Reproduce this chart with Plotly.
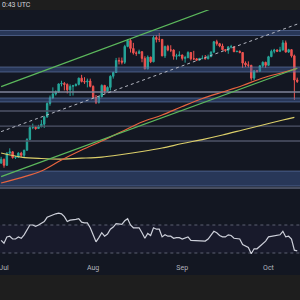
import plotly.graph_objects as go
import pandas as pd

# ---------------- data (ETH/USDT daily) ----------------
dates = pd.date_range("2025-06-30", periods=104, freq="D")

open_ = [2435, 2487, 2406, 2570, 2590, 2510, 2515, 2571, 2541, 2612,
         2770, 2955, 2960, 2940, 2970, 3010, 3130, 3370, 3475, 3550,
         3590, 3750, 3760, 3740, 3630, 3700, 3715, 3740, 3870, 3800,
         3790, 3810, 3700, 3480, 3395, 3495, 3720, 3610, 3680, 3910,
         3990, 4260, 4250, 4220, 4600, 4750, 4550, 4440, 4430, 4470,
         4310, 4070, 4340, 4230, 4830, 4780, 4780, 4370, 4600, 4510,
         4510, 4360, 4370, 4390, 4310, 4330, 4450, 4300, 4300, 4270,
         4310, 4310, 4300, 4350, 4460, 4720, 4670, 4610, 4520, 4500,
         4590, 4590, 4470, 4480, 4450, 4200, 4160, 4150, 3870, 4030,
         4020, 4140, 4220, 4150, 4350, 4480, 4510, 4480, 4510, 4690,
         4460, 4520, 4370, 3830]
high = [2520, 2495, 2585, 2640, 2600, 2530, 2585, 2590, 2620, 2790,
        2990, 3020, 2975, 3000, 3080, 3150, 3390, 3520, 3680, 3620,
        3760, 3815, 3790, 3760, 3740, 3730, 3760, 3880, 3940, 3890,
        3860, 3860, 3720, 3530, 3510, 3740, 3730, 3700, 3930, 4010,
        4320, 4330, 4330, 4640, 4790, 4790, 4690, 4480, 4520, 4480,
        4360, 4380, 4350, 4880, 4890, 4950, 4790, 4620, 4640, 4630,
        4530, 4420, 4480, 4400, 4370, 4480, 4460, 4490, 4320, 4320,
        4380, 4390, 4400, 4480, 4740, 4770, 4690, 4670, 4530, 4600,
        4640, 4600, 4490, 4500, 4460, 4240, 4240, 4160, 4040, 4040,
        4150, 4240, 4230, 4370, 4520, 4540, 4530, 4590, 4760, 4750,
        4540, 4530, 4400, 3880]
low = [2425, 2375, 2400, 2565, 2495, 2490, 2505, 2520, 2515, 2605,
       2760, 2930, 2920, 2935, 2960, 2950, 3120, 3330, 3450, 3520,
       3570, 3700, 3620, 3560, 3510, 3520, 3700, 3720, 3780, 3750,
       3680, 3680, 3470, 3360, 3370, 3490, 3560, 3590, 3620, 3860,
       3980, 4170, 4170, 4180, 4580, 4450, 4400, 4370, 4410, 4220,
       4060, 4060, 4200, 4220, 4700, 4710, 4360, 4320, 4480, 4460,
       4280, 4280, 4360, 4260, 4210, 4310, 4260, 4270, 4250, 4260,
       4290, 4290, 4290, 4340, 4440, 4620, 4580, 4500, 4460, 4420,
       4550, 4460, 4460, 4430, 4090, 4110, 4100, 3820, 3830, 3990,
       4000, 4100, 4090, 4140, 4340, 4430, 4460, 4460, 4500, 4450,
       4440, 4330, 3435, 3770]
close = [2487, 2406, 2570, 2590, 2510, 2515, 2571, 2541, 2612, 2770,
         2955, 2960, 2940, 2970, 3010, 3130, 3370, 3475, 3550, 3590,
         3750, 3760, 3740, 3630, 3700, 3715, 3740, 3870, 3800, 3790,
         3810, 3700, 3480, 3395, 3495, 3720, 3610, 3680, 3910, 3990,
         4260, 4250, 4220, 4600, 4750, 4550, 4440, 4430, 4470, 4310,
         4070, 4340, 4230, 4830, 4780, 4780, 4370, 4600, 4510, 4510,
         4360, 4370, 4390, 4310, 4330, 4450, 4300, 4300, 4270, 4310,
         4310, 4300, 4350, 4460, 4720, 4670, 4610, 4520, 4500, 4590,
         4590, 4470, 4480, 4450, 4200, 4160, 4150, 3870, 4030, 4020,
         4140, 4220, 4150, 4350, 4480, 4510, 4480, 4510, 4690, 4460,
         4520, 4370, 3830, 3800]
rsi = [48, 44, 53, 54, 50, 50, 53, 51, 56, 63,
       70, 70, 68, 70, 72, 75, 81, 83, 85, 86,
       87, 86, 82, 75, 77, 77, 78, 79, 74, 73,
       73, 66, 55, 46, 52, 59, 54, 57, 64, 67,
       72, 71, 71, 76, 79, 70, 66, 66, 66, 59,
       51, 58, 55, 66, 64, 64, 53, 56, 54, 54,
       51, 52, 52, 50, 51, 53, 48, 48, 47, 48,
       48, 47, 50, 55, 61, 59, 55, 53, 53, 56,
       55, 51, 51, 50, 42, 40, 38, 29, 36, 36,
       40, 44, 47, 53, 54, 55, 55, 56, 61, 53,
       54, 50, 34, 33]

ma_dates = ["2025-06-30", "2025-07-07", "2025-07-14", "2025-07-21", "2025-07-28",
            "2025-08-04", "2025-08-11", "2025-08-18", "2025-08-25", "2025-09-01",
            "2025-09-08", "2025-09-15", "2025-09-22", "2025-09-29", "2025-10-06",
            "2025-10-11"]
ema_vals = [2185, 2250, 2332, 2477, 2615, 2747, 2893, 3047, 3165, 3316,
            3463, 3588, 3718, 3873, 3991, 4080]
sma_dates = ma_dates[:-1] + ["2025-10-10"]
sma_vals = [2573, 2517, 2497, 2490, 2501, 2517, 2552, 2594, 2644, 2710,
            2769, 2838, 2917, 2998, 3080, 3125]

upper_ch_dates = ["2025-06-30", "2025-09-28"]
upper_ch = [3696, 6230]
mid_ch_dates = ["2025-06-30", "2025-10-12"]
mid_ch = [2891, 5224]
lower_ch_dates = ["2025-06-30", "2025-10-11"]
lower_ch = [2262, 4085]

zones_lo = [4883, 4001, 3398, 2149]
zones_hi = [5018, 4112, 3473, 2332]
levels = [3588, 3235, 2980, 2747, 2126]

month_ticks = ["2025-07-01", "2025-08-01", "2025-09-01", "2025-10-01"]
month_labels = ["Jul", "Aug", "Sep", "Oct"]
rsi_levels = [70, 30]

# ---------------- styling ----------------
BG = "#131722"
STRIP = "#1e1e1e"
UP = "#26a69a"
DOWN = "#ef5350"
x_range = ["2025-06-29 14:37", "2025-10-11 23:00"]
xa, xb = "2025-06-20", "2025-10-20"

fig = go.Figure()

# zones
for lo, hi in zip(zones_lo, zones_hi):
    fig.add_trace(go.Scatter(
        x=[xa, xb, xb, xa, xa], y=[lo, lo, hi, hi, lo], mode="lines",
        fill="toself", fillcolor="rgba(66,96,156,0.45)",
        line=dict(color="rgba(110,135,185,0.55)", width=1),
        hoverinfo="skip", xaxis="x", yaxis="y"))

# horizontal levels
level_colors = ["#80859a", "#4f5468", "#4f5468", "#4f5468", "#5a6074"]
for lv, c in zip(levels, level_colors):
    fig.add_trace(go.Scatter(x=[xa, xb], y=[lv, lv], mode="lines",
                             line=dict(color=c, width=1.3),
                             hoverinfo="skip", xaxis="x", yaxis="y"))

# moving averages
fig.add_trace(go.Scatter(x=sma_dates, y=sma_vals, mode="lines",
                         line=dict(color="#dccf6a", width=1.2, shape="spline"),
                         hoverinfo="skip", xaxis="x", yaxis="y"))
fig.add_trace(go.Scatter(x=ma_dates, y=ema_vals, mode="lines",
                         line=dict(color="#e8643f", width=1.2, shape="spline"),
                         hoverinfo="skip", xaxis="x", yaxis="y"))

# candles
fig.add_trace(go.Candlestick(
    x=dates, open=open_, high=high, low=low, close=close,
    increasing=dict(line=dict(color=UP, width=1), fillcolor=UP),
    decreasing=dict(line=dict(color=DOWN, width=1), fillcolor=DOWN),
    whiskerwidth=0, hoverinfo="skip", xaxis="x", yaxis="y"))

# channel lines
fig.add_trace(go.Scatter(x=upper_ch_dates, y=upper_ch, mode="lines",
                         line=dict(color="#5cb85c", width=1.2),
                         hoverinfo="skip", xaxis="x", yaxis="y"))
fig.add_trace(go.Scatter(x=lower_ch_dates, y=lower_ch, mode="lines",
                         line=dict(color="#5cb85c", width=1.2),
                         hoverinfo="skip", xaxis="x", yaxis="y"))
fig.add_trace(go.Scatter(x=mid_ch_dates, y=mid_ch, mode="lines",
                         line=dict(color="#b4b7c2", width=1, dash="dot"),
                         hoverinfo="skip", xaxis="x", yaxis="y"))

# RSI pane
fig.add_trace(go.Scatter(x=[xa, xb, xb, xa, xa],
                         y=[rsi_levels[1], rsi_levels[1], rsi_levels[0], rsi_levels[0], rsi_levels[1]],
                         mode="lines", fill="toself", fillcolor="rgba(126,87,194,0.06)",
                         line=dict(width=0), hoverinfo="skip", xaxis="x2", yaxis="y2"))
for lv in rsi_levels:
    fig.add_trace(go.Scatter(x=[xa, xb], y=[lv, lv], mode="lines",
                             line=dict(color="#5d6172", width=1, dash="dot"),
                             hoverinfo="skip", xaxis="x2", yaxis="y2"))
fig.add_trace(go.Scatter(x=dates, y=rsi, mode="lines",
                         line=dict(color="#cdd0da", width=1.2),
                         hoverinfo="skip", xaxis="x2", yaxis="y2"))

fig.update_layout(
    width=300, height=300, margin=dict(l=0, r=0, t=0, b=0),
    paper_bgcolor=BG, plot_bgcolor=BG, showlegend=False,
    font=dict(family="Roboto", size=7, color="#b2b5be"),
    xaxis=dict(domain=[0, 1], range=x_range, visible=False,
               rangeslider=dict(visible=False), anchor="y"),
    yaxis=dict(domain=[100 / 300, 290 / 300], type="log",
               range=[3.2992, 3.7490], visible=False),
    xaxis2=dict(domain=[0, 1], range=x_range, anchor="y2",
                tickvals=month_ticks, ticktext=month_labels,
                ticklabelposition="inside", ticklabeloverflow="allow", ticks="",
                tickfont=dict(size=7, color="#b2b5be", family="Roboto"),
                showgrid=False, zeroline=False, showline=False),
    yaxis2=dict(domain=[26 / 300, 96 / 300], range=[0, 100], visible=False),
    shapes=[
        dict(type="rect", xref="paper", yref="paper", x0=0, x1=1,
             y0=290 / 300, y1=1, fillcolor=STRIP, line=dict(width=0), layer="above"),
        dict(type="rect", xref="paper", yref="paper", x0=0, x1=1,
             y0=0, y1=25 / 300, fillcolor=STRIP, line=dict(width=0), layer="above"),
    ],
    annotations=[
        dict(text="0:43 UTC", xref="paper", yref="paper", x=0, y=1 - 5 / 300,
             xanchor="left", yanchor="middle", showarrow=False,
             font=dict(size=7, color="#d1d4dc", family="Roboto")),
    ],
)

fig.write_html("out.html")
